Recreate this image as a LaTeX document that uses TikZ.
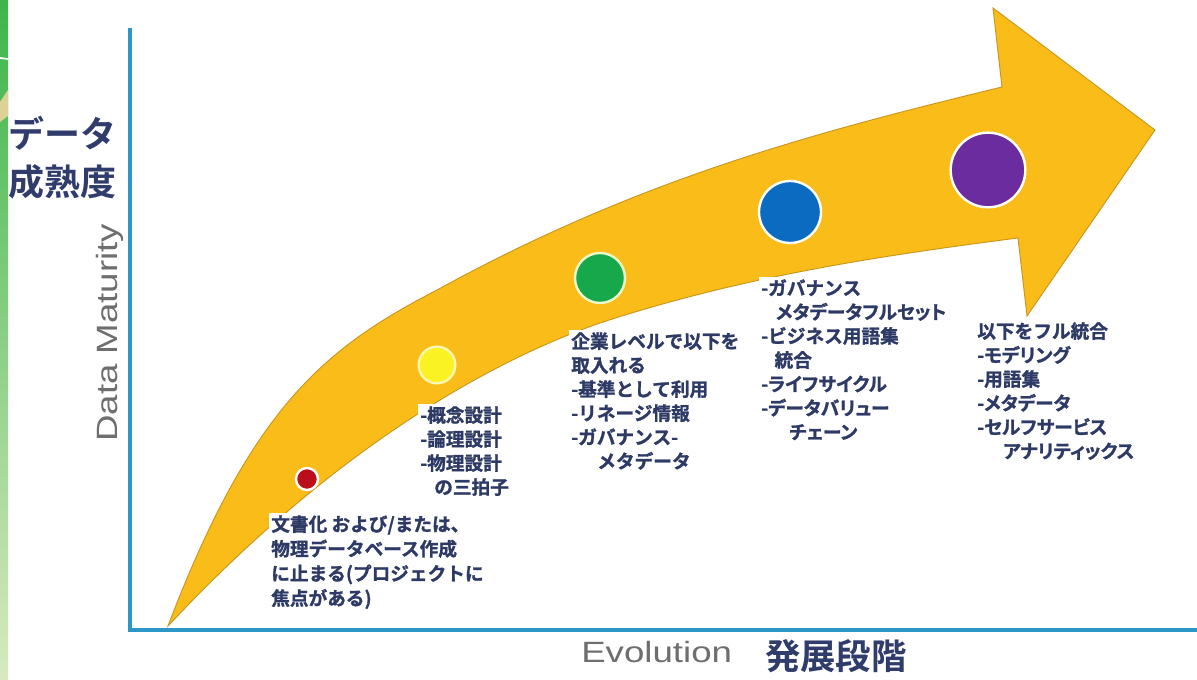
\documentclass[tikz,border=0pt]{standalone}
\usepackage{fontspec}
\newfontfamily\cjk{Noto Sans CJK JP}[BoldFont={Noto Sans CJK JP Bold}]
\newfontfamily\cjkl{Noto Sans CJK JP}[BoldFont={Noto Sans CJK JP Bold}, BoldFeatures={FakeBold=1.3}]
\newfontfamily\cjkp{Noto Sans CJK JP}[BoldFont={Noto Sans CJK JP Bold}, BoldFeatures={FakeBold=1.3}, RawFeature=+palt]
\newcommand\pk[1]{{\cjkp\bfseries #1}}
\newfontfamily\lsans{Liberation Sans}[FakeStretch=1.25]
\definecolor{lblnavy}{HTML}{2E3A66}
\definecolor{ttlnavy}{HTML}{2F3C6C}
\definecolor{axisblue}{HTML}{2C97C6}
\definecolor{arrowfill}{HTML}{FABC18}
\definecolor{arrowedge}{HTML}{C9971F}
\definecolor{engray}{HTML}{6E6E6E}
\definecolor{stripTop}{HTML}{3DB54A}
\definecolor{stripBot}{HTML}{D8EAC0}
\definecolor{tanc}{HTML}{DDD296}
\definecolor{dotred}{HTML}{BA0F1A}
\definecolor{dotyellow}{HTML}{FBF224}
\definecolor{dotgreen}{HTML}{17A84B}
\definecolor{dotblue}{HTML}{0B6BC1}
\definecolor{dotpurple}{HTML}{6A2C9F}
\begin{document}
\begin{tikzpicture}[x=0.75pt,y=-0.75pt,
  lbl/.style={font={\cjkl\bfseries\fontsize{14pt}{18pt}\selectfont}, text=lblnavy,
    align=left, anchor=north west, fill=white, inner sep=1.5pt},
  dot/.style={circle, draw=white, line width=1.8pt, inner sep=0pt},
  entext/.style={font={\lsans\fontsize{22pt}{26pt}\selectfont}, text=engray, inner sep=0pt},
  jptitle/.style={font={\cjk\bfseries\fontsize{27pt}{36pt}\selectfont}, text=ttlnavy, align=left, anchor=north west, inner sep=0pt}
]
\useasboundingbox (0,0) rectangle (1197,680);
\fill[white] (0,0) rectangle (1197,680);
% left decorative strip
\shade[top color=stripTop, bottom color=stripBot] (0,0) rectangle (8,680);
\fill[tanc] (0,102) -- (8,90) -- (8,116) -- (0,122) -- cycle;
\draw[white, line width=1.3pt] (0,58) -- (8,59);
% axes
\coordinate (ytop) at (130,28);
\coordinate (origin) at (130,630);
\coordinate (xend) at (1197,630);
\draw[axisblue, line width=3pt, line join=miter] (ytop) -- (origin) -- (xend);
% big arrow
\filldraw[fill=arrowfill, draw=arrowedge, line width=0.7pt, line join=miter]
  (168,626) .. controls (252,405) and (327,347) .. (437,290)
  .. controls (637,180) and (812,133) .. (1002,87)
  -- (993,8) -- (1155,130) -- (1027,316) -- (1018,238)
  .. controls (878,256) and (740,277) .. (600,323)
  .. controls (460,372) and (308,476) .. (168,626)
  -- cycle;
% dots
\node[dot, fill=dotred, minimum size=16.5pt] (d1) at (307,479) {};
\node[dot, fill=dotyellow, draw={rgb,255:red,250;green,248;blue,175}, minimum size=27.5pt] (d2) at (437,365) {};
\node[dot, fill=dotgreen, draw={rgb,255:red,235;green,250;blue,200}, minimum size=37.5pt] (d3) at (600,278) {};
\node[dot, fill=dotblue, minimum size=46.5pt] (d4) at (790,212) {};
\node[dot, fill=dotpurple, minimum size=56pt] (d5) at (988,170) {};
% labels
\node[lbl, font={\cjkl\bfseries\fontsize{14pt}{18.5pt}\selectfont}] (t1) at (269,513) {文書化 および/または、\\物理データベース作成\\に止まる(プロジェクトに\\焦点がある)};
\node[lbl] (t2) at (418,404) {-概念設計\\-論理設計\\-物理設計\\\hspace*{10.5pt}の三拍子};
\node[lbl] (t3) at (569,330) {企業レベルで以下を\\取入れる\\-基準として利用\\-リネージ情報\\-ガバナンス-\\\hspace*{19.5pt}メタデータ};
\node[lbl] (t4) at (759,277) {-ガバナンス\\\hspace*{11pt}\pk{メタデータフルセット}\\-ビジネス用語集\\\hspace*{10pt}統合\\\pk{-ライフサイクル}\\\pk{-データバリュー}\\\hspace*{21pt}\pk{チェーン}};
\node[lbl] (t5) at (975,320) {以下をフル統合\\\pk{-モデリング}\\-用語集\\\pk{-メタデータ}\\\pk{-セルフサービス}\\\hspace*{19.5pt}\pk{アナリティックス}};
% axis titles
\node[jptitle] (ylab) at (8,116) {データ\\成熟度};
\node[jptitle, font={\cjk\bfseries\fontsize{26.5pt}{30pt}\selectfont}] (xlab) at (765,639) {発展段階};
\node[entext, anchor=base west] (evo) at (581,663) {Evolution};
\node[entext, rotate=90, anchor=base west] (dm) at (117,442) {Data Maturity};
\end{tikzpicture}
\end{document}
